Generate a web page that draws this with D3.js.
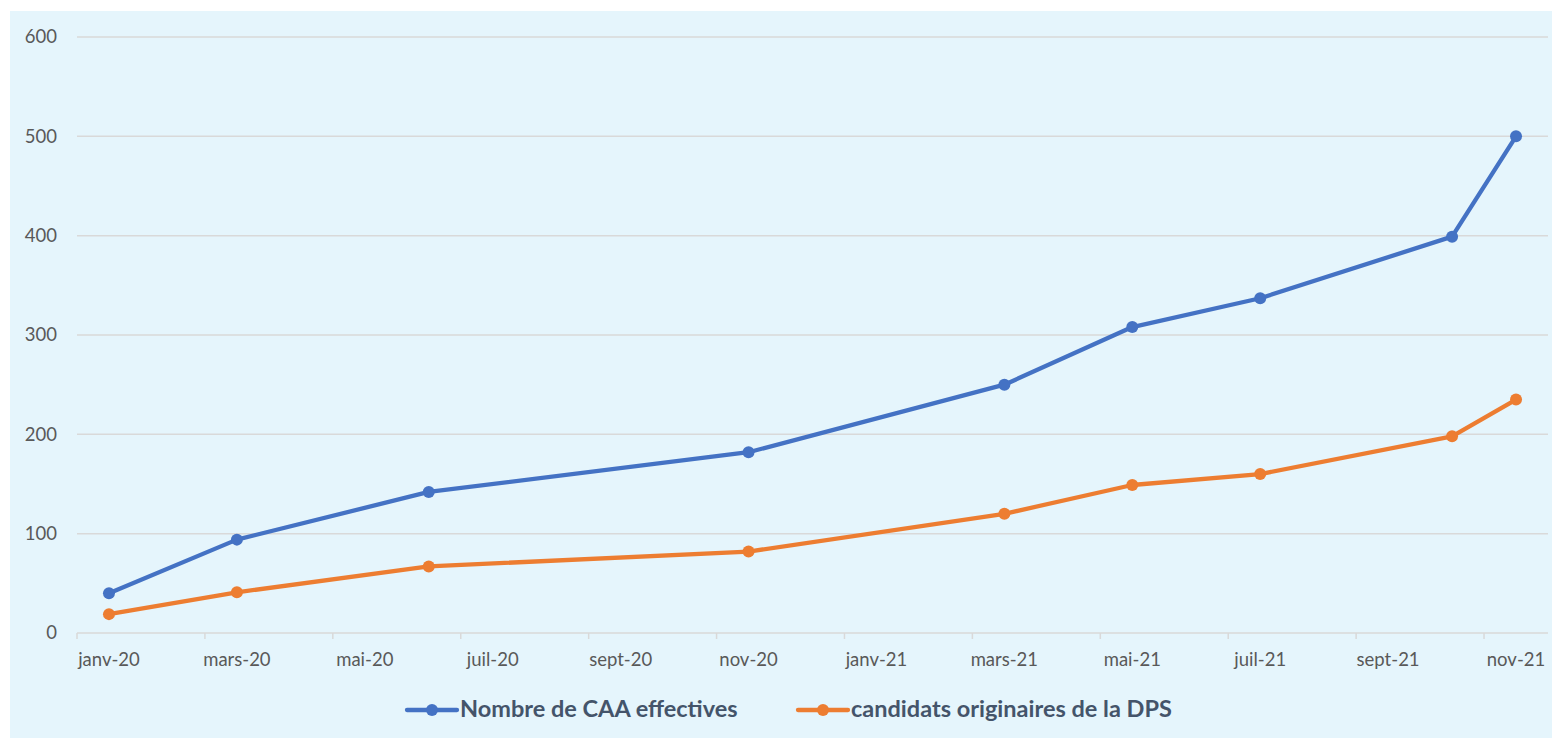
<!DOCTYPE html>
<html><head><meta charset="utf-8">
<script src="https://cdn.jsdelivr.net/npm/d3@7"></script>
<style>html,body{margin:0;padding:0;background:#fff;}svg{display:block;}</style>
</head><body>
<svg id="chart" width="1554" height="740"></svg>
<script>
// ---- data ----
const monthNames = ["janv","févr","mars","avr","mai","juin","juil","août","sept","oct","nov","déc"];
const axisMonths = []; // Jan 2020 .. Nov 2021
for (let y = 20; y <= 21; y++) for (let m = 0; m < 12; m++) { if (y === 21 && m > 10) break; axisMonths.push(monthNames[m] + "-" + y); }
const pointMonths = ["janv-20","mars-20","juin-20","nov-20","mars-21","mai-21","juil-21","oct-21","nov-21"];
const caaValues = [40, 94, 142, 182, 250, 308, 337, 399, 500];
const dpsValues = [19, 41, 67, 82, 120, 149, 160, 198, 235];
const yTicks = [0, 100, 200, 300, 400, 500, 600];
const seriesNames = ["Nombre de CAA effectives", "candidats originaires de la DPS"];
const seriesColors = ["#4472C4", "#ED7D31"];

// ---- layout ----
const svg = d3.select("#chart");
const L = 77, R = 1548, T = 37, B = 633;
svg.append("rect").attr("x", 10).attr("y", 11).attr("width", 1542).attr("height", 727).attr("fill", "#E5F5FC");

const x = d3.scaleBand().domain(axisMonths).range([L, R]).padding(0);
const y = d3.scaleLinear().domain([0, 600]).range([B, T]);

// gridlines
svg.append("g").selectAll("line").data(yTicks.filter(d => d > 0)).join("line")
  .attr("x1", L).attr("x2", R).attr("y1", d => y(d)).attr("y2", d => y(d))
  .attr("stroke", "#D9D9D9").attr("stroke-width", 1.5);

// y labels
svg.append("g").selectAll("text").data(yTicks).join("text")
  .attr("x", 57).attr("y", d => y(d)).attr("dy", "0.35em").attr("text-anchor", "end")
  .attr("font-family", "Lato, 'Open Sans', sans-serif").attr("font-size", 18.5).attr("fill", "#595959")
  .text(d => d);

// x axis line and ticks
svg.append("line").attr("x1", L).attr("x2", R).attr("y1", B).attr("y2", B).attr("stroke", "#D9D9D9").attr("stroke-width", 1.5);
const tickMonths = axisMonths.filter((d, i) => i % 2 === 0);
svg.append("g").selectAll("line").data(tickMonths).join("line")
  .attr("x1", d => x(d)).attr("x2", d => x(d)).attr("y1", B).attr("y2", B + 6)
  .attr("stroke", "#D9D9D9").attr("stroke-width", 1.5);
svg.append("g").selectAll("text").data(tickMonths).join("text")
  .attr("x", d => x(d) + x.bandwidth() / 2).attr("y", 666).attr("text-anchor", "middle")
  .attr("font-family", "Lato, 'Open Sans', sans-serif").attr("font-size", 18.5).attr("fill", "#595959")
  .text(d => d);

// series
const series = [caaValues, dpsValues];
const cx = m => x(m) + x.bandwidth() / 2;
series.forEach((vals, si) => {
  const pts = pointMonths.map((m, i) => [cx(m), y(vals[i])]);
  svg.append("path").attr("d", d3.line()(pts)).attr("fill", "none")
    .attr("stroke", seriesColors[si]).attr("stroke-width", 4.3).attr("stroke-linejoin", "round").attr("stroke-linecap", "round");
  svg.append("g").selectAll("circle").data(pts).join("circle")
    .attr("cx", d => d[0]).attr("cy", d => d[1]).attr("r", 6).attr("fill", seriesColors[si]);
});

// legend
const legendX = [407, 798];
const legendY = 710;
seriesNames.forEach((name, i) => {
  const g = svg.append("g");
  g.append("line").attr("x1", legendX[i]).attr("x2", legendX[i] + 50).attr("y1", legendY).attr("y2", legendY)
    .attr("stroke", seriesColors[i]).attr("stroke-width", 4.3).attr("stroke-linecap", "round");
  g.append("circle").attr("cx", legendX[i] + 25).attr("cy", legendY).attr("r", 6).attr("fill", seriesColors[i]);
  g.append("text").attr("x", legendX[i] + 53).attr("y", 717)
    .attr("font-family", "Lato, 'Open Sans', sans-serif").attr("font-weight", "bold").attr("font-size", 23.5)
    .attr("fill", "#44546A").text(name);
});
</script>
</body></html>
